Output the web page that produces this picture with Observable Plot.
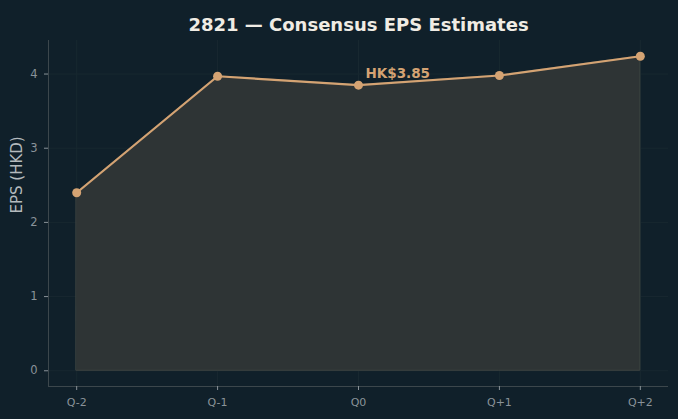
<!DOCTYPE html>
<html><head><meta charset="utf-8">
<script src="https://cdn.jsdelivr.net/npm/d3@7"></script>
<script src="https://cdn.jsdelivr.net/npm/@observablehq/plot@0.6"></script>
<style>
html,body{margin:0;padding:0;background:#10202a;}
#c{width:678px;height:419px;}
</style></head><body><div id="c"></div>
<script>
const quarters = ["Q-2","Q-1","Q0","Q+1","Q+2"];
const eps = [2.40, 3.97, 3.85, 3.98, 4.24];
const yTicks = [0,1,2,3,4];
const title = "2821 — Consensus EPS Estimates";
const yLabel = "EPS (HKD)";
const annotIndex = 2;
const annotText = "HK$3.85";

const data = quarters.map((q,i)=>({i, q, v: eps[i]}));
const xDom = [-0.2, quarters.length - 1 + 0.2];
const yMax = d3.max(eps), yPad = yMax*0.05;
const yDom = [-yPad, yMax + yPad];
const lineColor = "#d4a373";
const tickColor = "#8a9399";
const spineColor = "#3c474c";

const chart = Plot.plot({
  width: 678, height: 419,
  marginLeft: 48, marginRight: 10, marginTop: 40, marginBottom: 33,
  style: {background: "#10202a", fontFamily: "DejaVu Sans", color: tickColor},
  x: {domain: xDom, ticks: quarters.map((_,i)=>i), tickFormat: i => quarters[i], label: null},
  y: {domain: yDom, ticks: yTicks, label: null},
  marks: [
    Plot.gridX(quarters.map((_,i)=>i), {stroke: "#182830", strokeOpacity: 1}),
    Plot.gridY(yTicks, {stroke: "#182830", strokeOpacity: 1}),
    Plot.areaY(data, {x: "i", y: "v", fill: "#2e3435", stroke: "#3d4340", strokeWidth: 1}),
    Plot.lineY(data, {x: "i", y: "v", stroke: lineColor, strokeWidth: 2.2}),
    Plot.dot(data, {x: "i", y: "v", r: 4.5, fill: lineColor}),
    Plot.text([data[annotIndex]], {x: "i", y: "v", text: () => annotText, fill: lineColor, fontWeight: "bold", fontSize: 13.5, textAnchor: "start", dx: 7, dy: -11}),
    Plot.ruleX([xDom[0]], {stroke: spineColor, strokeWidth: 1}),
    Plot.ruleY([yDom[0]], {stroke: spineColor, strokeWidth: 1}),
    Plot.axisX({ticks: quarters.map((_,i)=>i), tickFormat: i => quarters[i], tickSize: 4, tickPadding: 8, fontSize: 11, stroke: tickColor, fill: tickColor, label: null}),
    Plot.axisY({ticks: yTicks, tickFormat: d3.format("d"), tickSize: 4, tickPadding: 7, fontSize: 11.5, stroke: tickColor, fill: tickColor, label: null}),
    Plot.text([title], {frameAnchor: "top", dy: -22, fill: "#f0ece4", fontWeight: "bold", fontSize: 18}),
    Plot.text([yLabel], {frameAnchor: "left", dx: -31, rotate: -90, fill: "#b4babd", fontSize: 15})
  ]
});
document.getElementById("c").appendChild(chart);
</script></body></html>
